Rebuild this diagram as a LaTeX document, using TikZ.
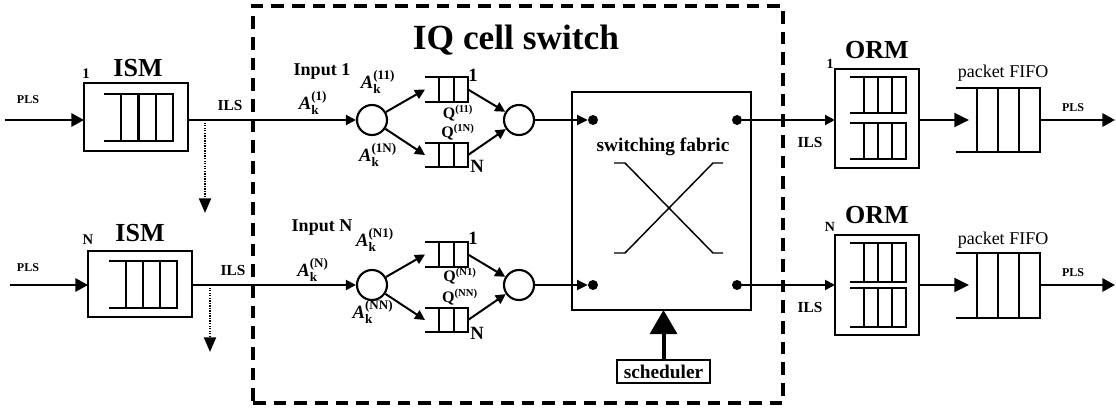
\documentclass[tikz,border=0pt]{standalone}
\usepackage{fontspec}
\setmainfont{Liberation Serif}
\usepackage{amsmath}
\usetikzlibrary{arrows.meta,calc}
\newcommand{\pxu}{0.75pt}
\newcommand{\fsz}[1]{\fontsize{#1pt}{#1pt}\selectfont}
\newcommand{\Akx}[1]{\textbf{\textit{A}}$_{\text{\bfseries k}}^{\text{\bfseries (#1)}}$}
\newcommand{\Qx}[1]{\textbf{Q}$^{\text{\bfseries (#1)}}$}
\newcommand{\qlines}[2]{%
 \draw[qln] (#1.north west) -- (#1.north east) -- (#1.south east) -- (#1.south west);
 \foreach \k in {1,...,#2}{\draw[qln] ($(#1.north west)!{\k/(#2+1)}!(#1.north east)$) -- ($(#1.south west)!{\k/(#2+1)}!(#1.south east)$);}}
\begin{document}
\begin{tikzpicture}[x=\pxu,y=-\pxu,
  qbox/.style={rectangle, draw=none, inner sep=0pt, outer sep=0pt},
  qln/.style={line width=1.6pt},
  box/.style={rectangle, draw, line width=1.6pt, inner sep=0pt, outer sep=0pt},
  circ/.style={circle, draw, line width=1.6pt, minimum size=30*\pxu, inner sep=0pt},
  dotn/.style={circle, fill, minimum size=10*\pxu, inner sep=0pt},
  ln/.style={line width=1.5pt},
  frame/.style={rectangle, draw, line width=3pt, dash pattern=on 9.5pt off 6pt, inner sep=0pt},
  bigtip/.style={-{Triangle[length=9.5pt,width=10pt]}},
  smtip/.style={-{Triangle[length=7.5pt,width=7.5pt]}},
  midtip/.style={-{Triangle[length=11pt,width=10.5pt]}},
  dropline/.style={dash pattern=on 1pt off 0.9pt, line width=1.6pt, -{Triangle[length=11pt,width=9pt]}},
  tl/.style={inner sep=0pt}
]
\useasboundingbox (0,0) rectangle (1116,420);

% dashed frame and title
\node[frame, minimum width=530*\pxu, minimum height=397*\pxu] (iq) at (518,204.5) {};
\node[tl, font=\bfseries\fsz{26.5}] (title) at (516,40) {IQ cell switch};

% ---------- ISM 1 ----------
\node[box, minimum width=104*\pxu, minimum height=68*\pxu] (ism1) at (136,117) {};
\node[qbox, minimum width=69*\pxu, minimum height=47*\pxu] (ismq1) at (138.5,117.5) {};
\qlines{ismq1}{3}
\node[tl, font=\bfseries\fsz{19.5}] (ism1t) at (138,68) {ISM};
\node[tl, font=\bfseries\fsz{11}] (ism1n) at (86,74) {1};
\node[tl, font=\bfseries\fsz{9}] (pls1) at (28,100) {PLS};
\node[tl, font=\bfseries\fsz{11.5}] (ils1) at (230,106) {ILS};
\coordinate (in1) at (5,120);
\draw[ln, bigtip] (in1) -- (in1 -| ism1.west);

% ---------- ISM N ----------
\node[box, minimum width=104*\pxu, minimum height=66*\pxu] (ism2) at (140,284) {};
\node[qbox, minimum width=68*\pxu, minimum height=47*\pxu] (ismq2) at (143,284.5) {};
\qlines{ismq2}{3}
\node[tl, font=\bfseries\fsz{19.5}] (ism2t) at (140,233) {ISM};
\node[tl, font=\bfseries\fsz{11}] (ism2n) at (88,240) {N};
\node[tl, font=\bfseries\fsz{9}] (pls2) at (28,268) {PLS};
\node[tl, font=\bfseries\fsz{11.5}] (ils2) at (233,270) {ILS};
\coordinate (in2) at (10,285);
\draw[ln, bigtip] (in2) -- (in2 -| ism2.west);

% ---------- input 1 ----------
\node[circ] (c11) at (372,120) {};
\node[circ] (c12) at (519,120) {};
\node[qbox, minimum width=43*\pxu, minimum height=25*\pxu] (q11) at (446.5,89.5) {};
\node[qbox, minimum width=43*\pxu, minimum height=24*\pxu] (q1N) at (446.5,155) {};
\qlines{q11}{2}
\qlines{q1N}{2}
\node[tl, font=\bfseries\fsz{13.5}] (inp1) at (322,71) {Input 1};
\node[tl, font=\fsz{14}] (a1) at (313,103) {\Akx{1}};
\node[tl, font=\fsz{14}] (a11) at (378,82) {\Akx{11}};
\node[tl, font=\fsz{14}] (a1N) at (378,155) {\Akx{1N}};
\node[tl, font=\fsz{12}] (Q11) at (458,113) {\Qx{11}};
\node[tl, font=\fsz{12}] (Q1N) at (458,132) {\Qx{1N}};
\node[tl, font=\bfseries\fsz{14}] (q11n) at (473,75) {1};
\node[tl, font=\bfseries\fsz{14}] (q1Nn) at (477,166) {N};

% ---------- input N ----------
\node[circ] (c21) at (372,285) {};
\node[circ] (c22) at (519,285) {};
\node[qbox, minimum width=43*\pxu, minimum height=25*\pxu] (qN1) at (446.5,254.5) {};
\node[qbox, minimum width=43*\pxu, minimum height=24*\pxu] (qNN) at (446.5,320) {};
\qlines{qN1}{2}
\qlines{qNN}{2}
\node[tl, font=\bfseries\fsz{13.5}] (inpN) at (322,228) {Input N};
\node[tl, font=\fsz{14}] (aN) at (313,270) {\Akx{N}};
\node[tl, font=\fsz{14}] (aN1) at (375,240) {\Akx{N1}};
\node[tl, font=\fsz{14}] (aNN) at (373,312) {\Akx{NN}};
\node[tl, font=\fsz{12}] (QN1) at (460,276) {\Qx{N1}};
\node[tl, font=\fsz{12}] (QNN) at (460,297) {\Qx{NN}};
\node[tl, font=\bfseries\fsz{14}] (qN1n) at (473,238) {1};
\node[tl, font=\bfseries\fsz{14}] (qNNn) at (477,333) {N};

% ---------- switching fabric ----------
\node[box, minimum width=179*\pxu, minimum height=218*\pxu] (fab) at (661.5,201) {};
\node[dotn] (d11) at (593,120) {};
\node[dotn] (d12) at (737,120) {};
\node[dotn] (d21) at (593,285) {};
\node[dotn] (d22) at (737,285) {};
\node[tl, font=\bfseries\fsz{14.5}] (fabt) at (663,147) {switching fabric};
\draw[line width=1.1pt] (614,163) -- (625,163) -- (713,253) -- (723,253);
\draw[line width=1.1pt] (614,253) -- (625,253) -- (713,163) -- (723,163);
\node[box, font=\bfseries\fsz{14.5}, minimum width=93*\pxu, minimum height=23*\pxu] (sch) at (663.5,371.5) {scheduler};
\draw[line width=3pt, -{Triangle[length=18pt,width=20pt]}] (sch.north) -- (sch.north |- fab.south);

% ---------- ORM 1 ----------
\node[box, minimum width=84*\pxu, minimum height=99*\pxu] (orm1) at (877,118.5) {};
\node[qbox, minimum width=56*\pxu, minimum height=36*\pxu] (oq11) at (878,95) {};
\node[qbox, minimum width=56*\pxu, minimum height=36*\pxu] (oq12) at (878,141) {};
\qlines{oq11}{3}
\qlines{oq12}{3}
\node[tl, font=\bfseries\fsz{19.5}] (orm1t) at (877,50) {ORM};
\node[tl, font=\bfseries\fsz{10.5}] (orm1n) at (830,64) {1};
\node[tl, font=\bfseries\fsz{11.5}] (ils3) at (810,142) {ILS};
\node[qbox, minimum width=84*\pxu, minimum height=64*\pxu] (fifo1) at (998,120) {};
\qlines{fifo1}{3}
\node[tl, font=\fsz{13.5}] (fifo1t) at (1003,73) {packet FIFO};
\node[tl, font=\bfseries\fsz{9}] (pls3) at (1073,108) {PLS};
\coordinate (out1) at (1115,120);

% ---------- ORM N ----------
\node[box, minimum width=84*\pxu, minimum height=100*\pxu] (orm2) at (877,285) {};
\node[qbox, minimum width=56*\pxu, minimum height=39*\pxu] (oq21) at (878,262.5) {};
\node[qbox, minimum width=56*\pxu, minimum height=39*\pxu] (oq22) at (878,307.5) {};
\qlines{oq21}{3}
\qlines{oq22}{3}
\node[tl, font=\bfseries\fsz{19.5}] (orm2t) at (877,215) {ORM};
\node[tl, font=\bfseries\fsz{10.5}] (orm2n) at (830,227) {N};
\node[tl, font=\bfseries\fsz{11.5}] (ils4) at (810,307) {ILS};
\node[qbox, minimum width=84*\pxu, minimum height=65*\pxu] (fifo2) at (998,285.5) {};
\qlines{fifo2}{3}
\node[tl, font=\fsz{13.5}] (fifo2t) at (1003,240) {packet FIFO};
\node[tl, font=\bfseries\fsz{9}] (pls4) at (1073,273) {PLS};
\coordinate (out2) at (1115,285);

% ---------- connectors ----------
\draw[ln, smtip] (ism1.east |- c11) -- (c11);
\draw[ln, smtip] (ism2.east |- c21) -- (c21);
\coordinate (dr1) at (205,120);
\coordinate (dr1e) at (205,213);
\draw[dropline] (dr1) -- (dr1e);
\coordinate (dr2) at (210,285);
\coordinate (dr2e) at (210,352);
\draw[dropline] (dr2) -- (dr2e);

\draw[ln, smtip] (c11) -- (q11.west);
\draw[ln, smtip] (c11) -- (q1N.west);
\draw[ln, smtip] (q11.east) -- (c12);
\draw[ln, smtip] (q1N.east) -- (c12);
\draw[ln, smtip] (c21) -- (qN1.west);
\draw[ln, smtip] (c21) -- (qNN.west);
\draw[ln, smtip] (qN1.east) -- (c22);
\draw[ln, smtip] (qNN.east) -- (c22);

\draw[ln, -{Triangle[length=8pt,width=7.5pt]}] (c12) -- (d11);
\draw[ln, -{Triangle[length=8pt,width=7.5pt]}] (c22) -- (d21);

\draw[ln, smtip] (d12) -- (d12 -| orm1.west);
\draw[ln, smtip] (d22) -- (d22 -| orm2.west);

\draw[ln, midtip] (orm1.east |- fifo1) -- ([xshift=13*\pxu]fifo1.west);
\draw[ln, midtip] (orm2.east |- out2) -- ([xshift=13*\pxu]fifo2.west |- out2);
\draw[ln, bigtip] (fifo1.east) -- (out1);
\draw[ln, bigtip] (fifo2.east |- out2) -- (out2);
\end{tikzpicture}
\end{document}
